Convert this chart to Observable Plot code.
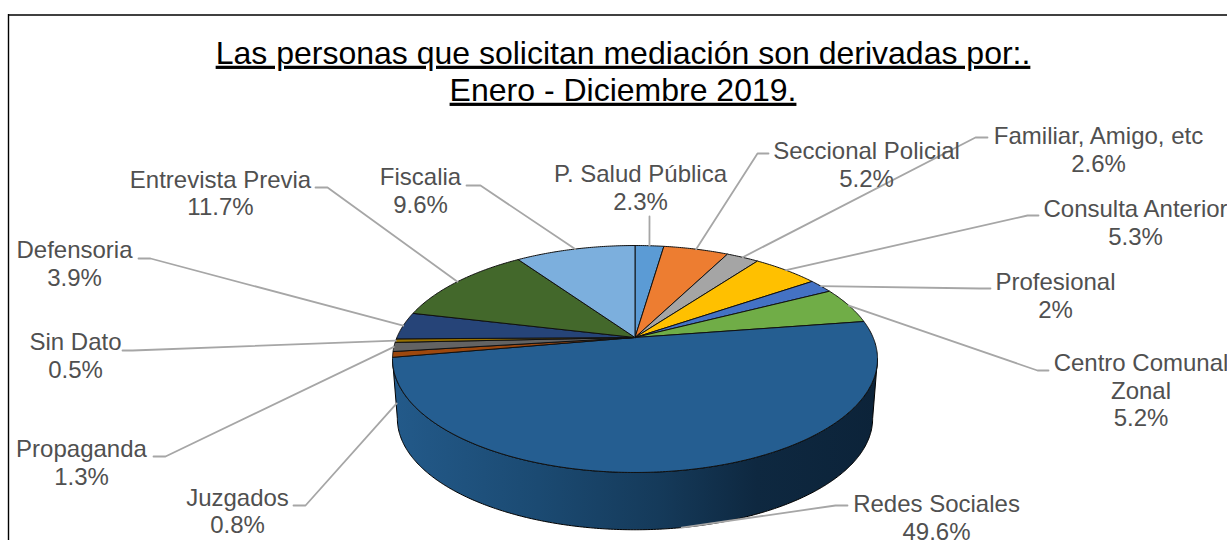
<!DOCTYPE html>
<html>
<head>
<meta charset="utf-8">
<script src="https://cdn.jsdelivr.net/npm/d3@7"></script>
<script src="https://cdn.jsdelivr.net/npm/@observablehq/plot@0.6"></script>
<style>
html,body{margin:0;padding:0;background:#fff;overflow:hidden}
svg{display:block}
</style>
</head>
<body>
<div id="chart"></div>
<script>
// ---- data ----
const categories = ["P. Salud Pública","Seccional Policial","Familiar, Amigo, etc","Consulta Anterior","Profesional","Centro Comunal\nZonal","Redes Sociales","Juzgados","Propaganda","Sin Dato","Defensoria","Entrevista Previa","Fiscalia"];
const values = [2.3,5.2,2.6,5.3,2,5.2,49.6,0.8,1.3,0.5,3.9,11.7,9.6];
const sliceColors = ["#5B9BD5","#ED7D31","#A5A5A5","#FFC000","#4472C4","#70AD47","#255E91","#9E480E","#636363","#997300","#264478","#43682B","#7CAFDD"];
const titleLines = ["Las personas que solicitan mediación son derivadas por:.","Enero - Diciembre 2019."];

// ---- layout (label centre, leader elbow, leader end, wall depth of leader start) ----
const labelLayout = [
  {cx:640, cy:186.5, elbow:null, end:[649,216], t:0},
  {cx:866, cy:163.5, elbow:[757,153], end:[768,153], t:0},
  {cx:1098,cy:148.5, elbow:[975,137], end:[987,137], t:0},
  {cx:1135,cy:221.5, elbow:[1027,215], end:[1038,215], t:0},
  {cx:1055,cy:294.5, elbow:[979,288], end:[990,288], t:0},
  {cx:1140.5,cy:389.5, elbow:[1037,370], end:[1048,370], t:0},
  {cx:936, cy:516.5, elbow:[835,505], end:[847,505], t:1},
  {cx:237, cy:510,   elbow:[305,505], end:[293,505], t:0.82},
  {cx:81,  cy:461.5, elbow:[165,456], end:[153,456], t:0},
  {cx:75,  cy:354.5, elbow:[132,350], end:[122,350], t:0},
  {cx:74,  cy:262.5, elbow:[150,258], end:[138,258], t:0},
  {cx:220, cy:192,   elbow:[327,187], end:[315,187], t:0},
  {cx:420, cy:189.5, elbow:[480,185], end:[466,185], t:0}
];

// ---- perspective pie geometry ----
const pie = {cx:634.5, cy:337, A:238.1, B:109.4, k:0.1894, wall:60, shrink:0.02};
function rim(theta, depth = 0) {
  const u = Math.sin(theta), v = -Math.cos(theta), w = 1 - pie.k * v;
  const s = 1 - pie.shrink * depth;
  return {x: pie.cx + s * pie.A * u / w, y: pie.cy + depth * pie.wall + s * pie.B * v / w};
}
function arcPts(a0, a1, depth = 0) {
  const n = Math.max(2, Math.ceil(Math.abs(a1 - a0) / 0.01));
  return d3.range(n + 1).map(i => rim(a0 + (a1 - a0) * i / n, depth));
}
const arcs = d3.pie().sort(null).value(d => d)(values);
const apex = {x: pie.cx, y: pie.cy};

const slicePts = arcs.flatMap((a, i) =>
  [apex, ...arcPts(a.startAngle, a.endAngle), apex].map(p => ({...p, name: categories[i]})));

const thR = Math.PI - Math.acos(pie.k), thL = Math.PI + Math.acos(pie.k);
const wallPts = [...arcPts(thR, thL, 0), ...arcPts(thL, thR, 1)];
wallPts.push(wallPts[0]);

const leaderPts = arcs.flatMap((a, i) => {
  const L = labelLayout[i], mid = (a.startAngle + a.endAngle) / 2;
  const pts = [rim(mid, L.t)];
  if (L.elbow) pts.push({x: L.elbow[0], y: L.elbow[1]});
  pts.push({x: L.end[0], y: L.end[1]});
  return pts.map(p => ({...p, name: categories[i]}));
});

const labels = categories.map((c, i) => ({
  text: `${c}\n${values[i]}%`, x: labelLayout[i].cx, y: labelLayout[i].cy
}));
const titles = titleLines.map((t, i) => ({text: t, x: 622.5, y: [53, 90][i]}));

const defs = () => {
  const d = d3.create("svg:defs");
  const g = d.append("linearGradient").attr("id", "wallGrad");
  [[0, "#235A8A"], [0.3, "#1B4A72"], [0.55, "#153A5A"], [0.75, "#0E2840"], [1, "#0C2339"]]
    .forEach(([o, c]) => g.append("stop").attr("offset", o).attr("stop-color", c));
  return d.node();
};

const plot = Plot.plot({
  width: 1227, height: 540, margin: 0,
  style: {fontFamily: "'Liberation Sans', Arial, sans-serif", background: "#fff"},
  x: {axis: null, domain: [0, 1227], range: [0, 1227]},
  y: {axis: null, domain: [0, 540], range: [0, 540]},
  color: {domain: categories, range: sliceColors},
  marks: [
    defs,
    Plot.ruleX([8], {y1: 14, y2: 540, stroke: "#000", strokeWidth: 1.4}),
    Plot.ruleY([14.5], {x1: 8, x2: 1227, stroke: "#000", strokeWidth: 1.4}),
    Plot.line(wallPts, {x: "x", y: "y", fill: "url(#wallGrad)", stroke: "#000", strokeWidth: 1, curve: "linear"}),
    Plot.line(slicePts, {x: "x", y: "y", z: "name", fill: "name", stroke: "#111", strokeWidth: 1, strokeLinejoin: "round", curve: "linear"}),
    Plot.line(leaderPts, {x: "x", y: "y", z: "name", stroke: "#A6A6A6", strokeWidth: 1.8, curve: "linear"}),
    Plot.text(labels, {x: "x", y: "y", text: "text", fontSize: 24, lineHeight: 1.15, fill: "#505050"}),
    Plot.text(titles, {
      x: "x", y: "y", text: "text", fontSize: 32, fill: "#000",
      render(index, scales, values, dimensions, context, next) {
        const g = next(index, scales, values, dimensions, context);
        d3.select(g).selectAll("text").style("text-decoration", "underline");
        return g;
      }
    })
  ]
});
document.getElementById("chart").append(plot);
</script>
</body>
</html>
